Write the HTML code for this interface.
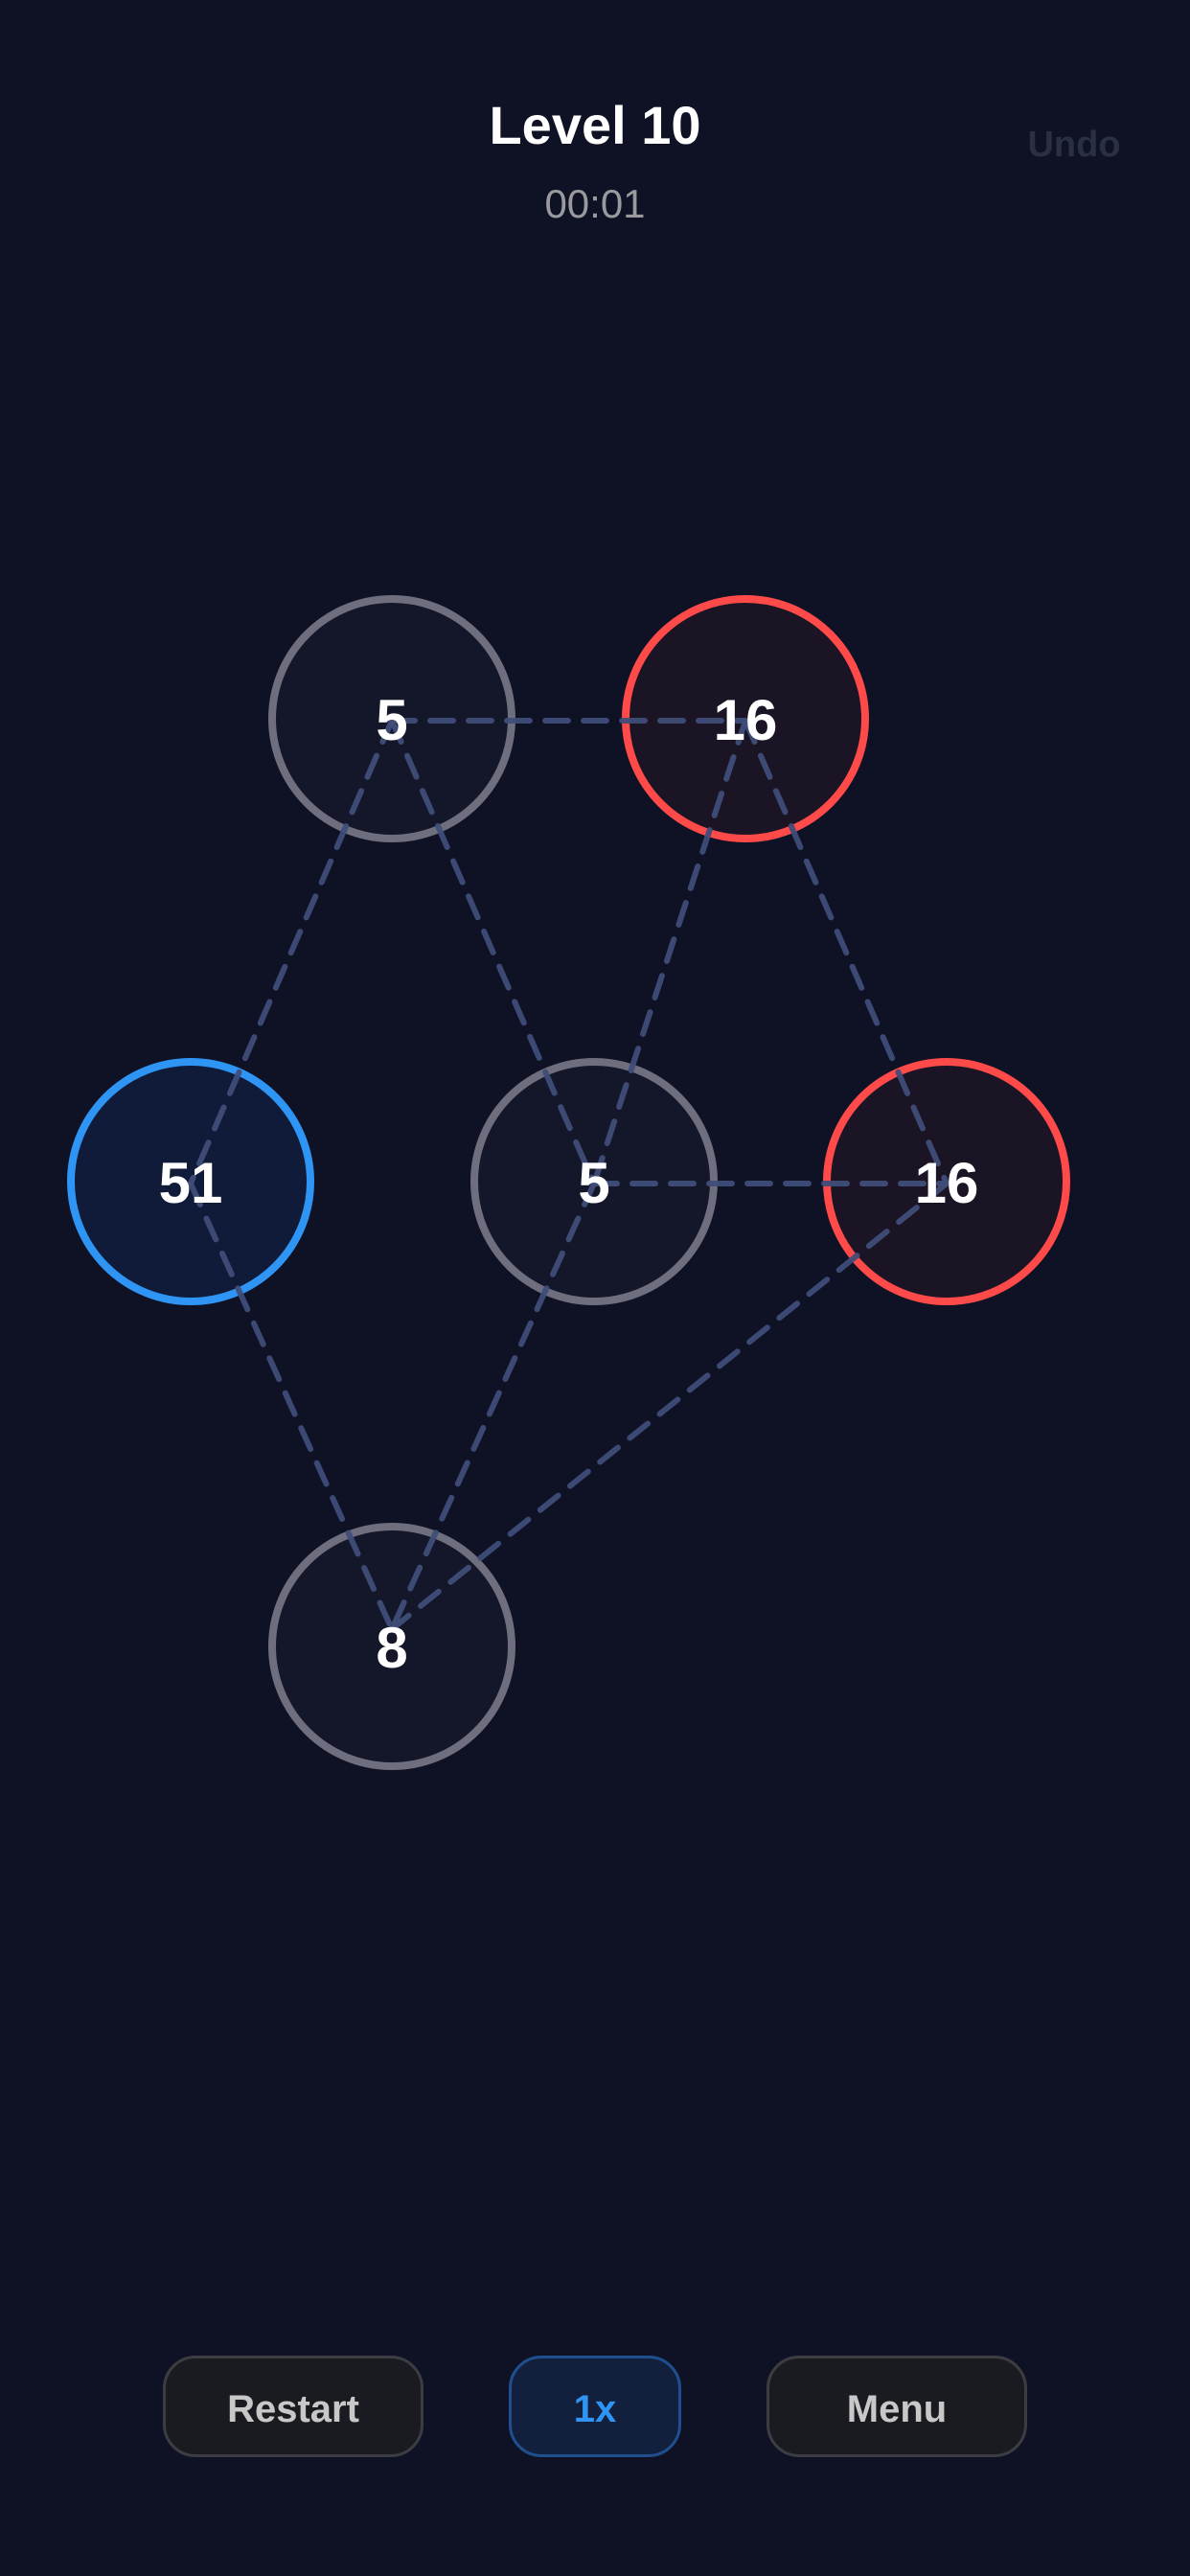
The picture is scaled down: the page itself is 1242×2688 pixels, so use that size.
<!DOCTYPE html>
<html><head><meta charset="utf-8"><style>
html,body{margin:0;padding:0;background:#0f1225;}
body{width:1242px;height:2688px;position:relative;overflow:hidden;font-family:"Liberation Sans",sans-serif;}
.t{position:absolute;text-align:center;}
.btn{position:absolute;top:2458px;height:106px;border-radius:34px;box-sizing:border-box;border:3px solid #3c3d42;background:#1a1b20;color:#c8c8c8;font-weight:bold;font-size:40px;line-height:106px;text-align:center;}
</style></head><body>
<div class="t" style="left:0;width:1242px;top:98px;font-size:56px;font-weight:bold;color:#fff;">Level 10</div>
<div class="t" style="left:0;width:1242px;top:189px;font-size:42px;color:#9a9a9e;">00:01</div>
<div class="t" style="left:1060px;width:122px;top:130px;font-size:38px;font-weight:bold;color:#2b2f42;">Undo</div>
<svg width="1242" height="2688" style="position:absolute;left:0;top:0">
<g>
<circle cx="409" cy="750" r="125" fill="#141729" stroke="#6e6e7e" stroke-width="8"/>
<circle cx="778" cy="750" r="125" fill="#1b1425" stroke="#ff4a4a" stroke-width="8"/>
<circle cx="199" cy="1233" r="125" fill="#0f1b38" stroke="#2f95f5" stroke-width="8"/>
<circle cx="620" cy="1233" r="125" fill="#141729" stroke="#6e6e7e" stroke-width="8"/>
<circle cx="988" cy="1233" r="125" fill="#1b1425" stroke="#ff4a4a" stroke-width="8"/>
<circle cx="409" cy="1718" r="125" fill="#141729" stroke="#6e6e7e" stroke-width="8"/>
</g>
<g stroke="#3f4d78" stroke-opacity="0.95" stroke-width="6" stroke-dasharray="24 16" stroke-linecap="round" fill="none">
<line x1="409" y1="752" x2="778" y2="752"/>
<line x1="409" y1="752" x2="199" y2="1235"/>
<line x1="409" y1="752" x2="620" y2="1235"/>
<line x1="778" y1="752" x2="620" y2="1235"/>
<line x1="778" y1="752" x2="988" y2="1235"/>
<line x1="620" y1="1235" x2="988" y2="1235"/>
<line x1="199" y1="1235" x2="409" y2="1700"/>
<line x1="620" y1="1235" x2="409" y2="1700"/>
<line x1="988" y1="1235" x2="409" y2="1700"/>
</g>
<g fill="#fff" font-family="Liberation Sans, sans-serif" font-weight="bold" font-size="60" text-anchor="middle">
<text x="409" y="772">5</text>
<text x="778" y="772">16</text>
<text x="199" y="1255">51</text>
<text x="620" y="1255">5</text>
<text x="988" y="1255">16</text>
<text x="409" y="1740">8</text>
</g>
</svg>
<div class="btn" style="left:170px;width:272px;">Restart</div>
<div class="btn" style="left:531px;width:180px;background:#13203d;border-color:#1f4f8f;color:#2f95f5;">1x</div>
<div class="btn" style="left:800px;width:272px;">Menu</div>
</body></html>
